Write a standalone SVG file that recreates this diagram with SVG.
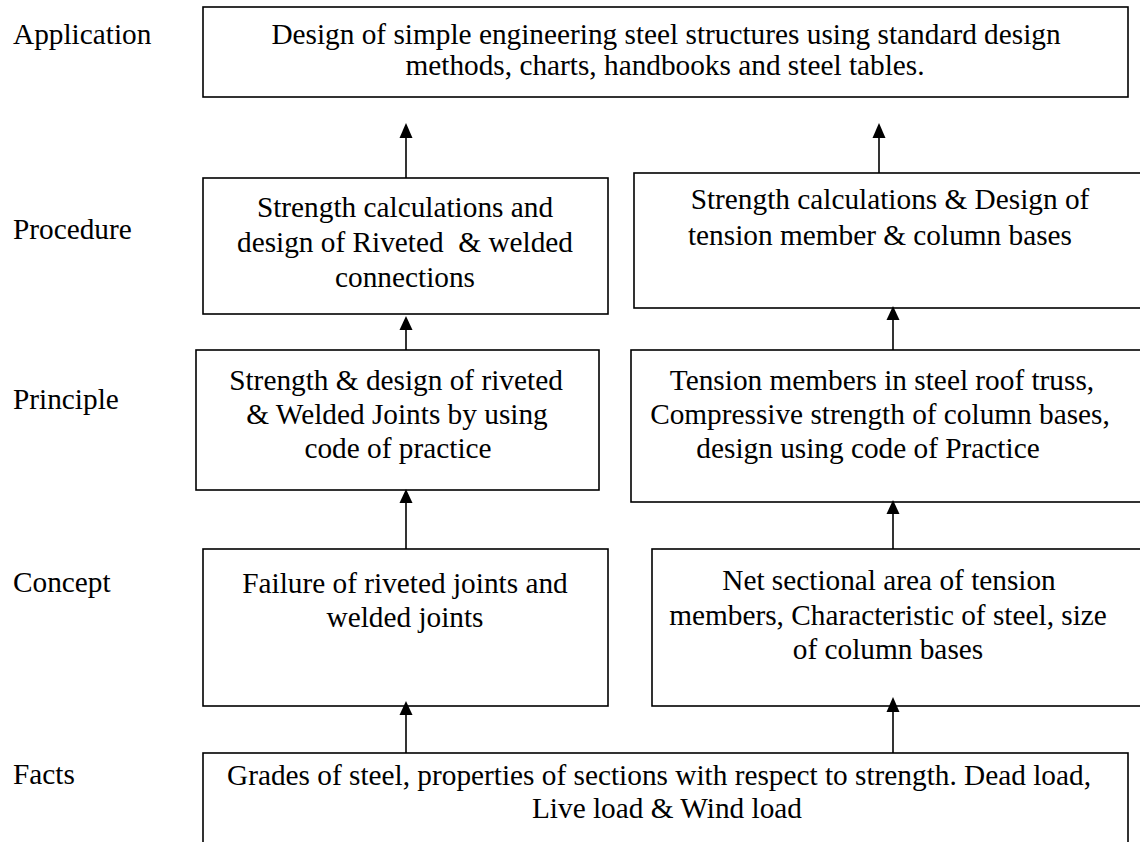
<svg xmlns="http://www.w3.org/2000/svg" width="1140" height="842" viewBox="0 0 1140 842">
<defs>
<style>
text{font-family:"Liberation Serif","Times New Roman",serif;font-size:29.3px;fill:#000}
.c{text-anchor:middle}
.box{fill:#fff;stroke:#000;stroke-width:1.6}
.ln{stroke:#000;stroke-width:1.6;fill:none}
.hd{fill:#000}
</style>
</defs>
<rect width="1140" height="842" fill="#fff"/>
<g id="labels">
<text x="13" y="44">Application</text>
<text x="13" y="239">Procedure</text>
<text x="13" y="409">Principle</text>
<text x="13" y="592">Concept</text>
<text x="13" y="784">Facts</text>
</g>
<g id="application">
<rect class="box" x="203" y="7" width="925" height="90"/>
<text class="c" x="666" y="44">Design of simple engineering steel structures using standard design</text>
<text class="c" x="665" y="75">methods, charts, handbooks and steel tables.</text>
</g>
<g id="procedure-left">
<rect class="box" x="203" y="178" width="405" height="136"/>
<text class="c" x="405" y="217">Strength calculations and</text>
<text class="c" x="405" y="252" xml:space="preserve">design of Riveted  &amp; welded</text>
<text class="c" x="405" y="287">connections</text>
</g>
<g id="procedure-right">
<rect class="box" x="634" y="173" width="520" height="135"/>
<text class="c" x="890" y="209">Strength calculations &amp; Design of</text>
<text class="c" x="880" y="245">tension member &amp; column bases</text>
</g>
<g id="principle-left">
<rect class="box" x="196" y="350" width="403" height="140"/>
<text class="c" x="396" y="390">Strength &amp; design of riveted</text>
<text class="c" x="397" y="424">&amp; Welded Joints by using</text>
<text class="c" x="398" y="458">code of practice</text>
</g>
<g id="principle-right">
<rect class="box" x="631" y="350" width="520" height="152"/>
<text class="c" x="882" y="390">Tension members in steel roof truss,</text>
<text class="c" x="880" y="424">Compressive strength of column bases,</text>
<text class="c" x="868" y="458">design using code of Practice</text>
</g>
<g id="concept-left">
<rect class="box" x="203" y="549" width="405" height="157"/>
<text class="c" x="405" y="593">Failure of riveted joints and</text>
<text class="c" x="405" y="627">welded joints</text>
</g>
<g id="concept-right">
<rect class="box" x="652" y="549" width="500" height="157"/>
<text class="c" x="889" y="590">Net sectional area of tension</text>
<text class="c" x="888" y="625">members, Characteristic of steel, size</text>
<text class="c" x="888" y="659">of column bases</text>
</g>
<g id="facts">
<rect class="box" x="203" y="753" width="925" height="110"/>
<text class="c" x="659" y="785">Grades of steel, properties of sections with respect to strength. Dead load,</text>
<text class="c" x="667" y="818">Live load &amp; Wind load</text>
</g>
<g id="connectors">
<line class="ln" x1="406" y1="178" x2="406" y2="136"/>
<polygon class="hd" points="406,123 399.5,138 412.5,138"/>
<line class="ln" x1="879" y1="173" x2="879" y2="136"/>
<polygon class="hd" points="879,123 872.5,138 885.5,138"/>
<line class="ln" x1="406" y1="350" x2="406" y2="328"/>
<polygon class="hd" points="406,316 399.5,330 412.5,330"/>
<line class="ln" x1="893" y1="350" x2="893" y2="318"/>
<polygon class="hd" points="893,306 886.5,320 899.5,320"/>
<line class="ln" x1="406" y1="549" x2="406" y2="500"/>
<polygon class="hd" points="406,489 399.5,503 412.5,503"/>
<line class="ln" x1="893" y1="549" x2="893" y2="510"/>
<polygon class="hd" points="893,500 886.5,514 899.5,514"/>
<line class="ln" x1="406" y1="753" x2="406" y2="712"/>
<polygon class="hd" points="406,701 399.5,715 412.5,715"/>
<line class="ln" x1="893" y1="753" x2="893" y2="708"/>
<polygon class="hd" points="893,697 886.5,712 899.5,712"/>
</g>
</svg>
